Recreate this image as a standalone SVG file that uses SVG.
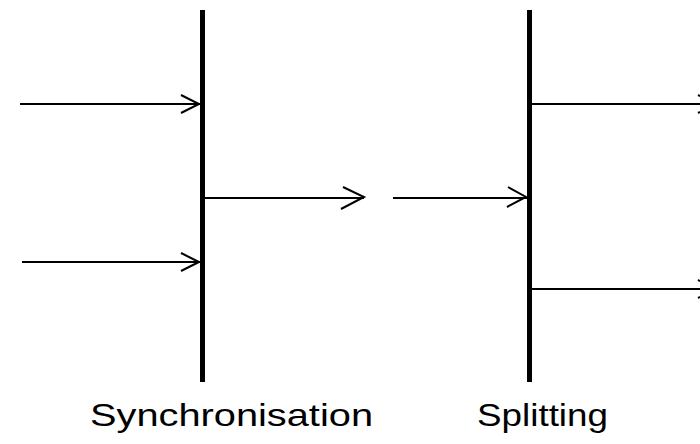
<svg xmlns="http://www.w3.org/2000/svg" width="700" height="444" viewBox="0 0 700 444">
  <style>
    .bar { stroke: #000; stroke-width: 5; }
    .flow { stroke: #000; stroke-width: 2; fill: none; }
    .head { stroke: #000; stroke-width: 2; fill: none; }
    .label { font-family: "Liberation Sans", Arial, sans-serif; font-size: 32px; fill: #000; }
  </style>
  <rect width="700" height="444" fill="#fff"/>

  <g id="sync">
    <line class="bar" x1="202.5" y1="10" x2="202.5" y2="382"/>
    <text class="label" x="90" y="426" textLength="283" lengthAdjust="spacingAndGlyphs">Synchronisation</text>
  </g>

  <g id="split">
    <line class="bar" x1="529.5" y1="10" x2="529.5" y2="382"/>
    <text class="label" x="477" y="426" textLength="131" lengthAdjust="spacingAndGlyphs">Splitting</text>
  </g>

  <g id="connectors">
    <!-- inputs into synchronisation bar -->
    <line class="flow" x1="20" y1="104" x2="200" y2="104"/>
    <polyline class="head" points="181,95 199,104 181,113"/>
    <line class="flow" x1="22" y1="262" x2="200" y2="262"/>
    <polyline class="head" points="181,253 199,262 181,271"/>
    <!-- output of synchronisation -->
    <line class="flow" x1="205" y1="198" x2="364" y2="198"/>
    <polyline class="head" points="343,187 364,197 341,209"/>
    <!-- input of splitting -->
    <line class="flow" x1="393" y1="198" x2="527" y2="198"/>
    <polyline class="head" points="508,187 526,197 507,207"/>
    <!-- outputs of splitting bar -->
    <line class="flow" x1="532" y1="104" x2="700" y2="104"/>
    <polyline class="head" points="698,95 716,104 698,113"/>
    <line class="flow" x1="532" y1="289" x2="700" y2="289"/>
    <polyline class="head" points="698,280 716,289 698,298"/>
  </g>
</svg>
